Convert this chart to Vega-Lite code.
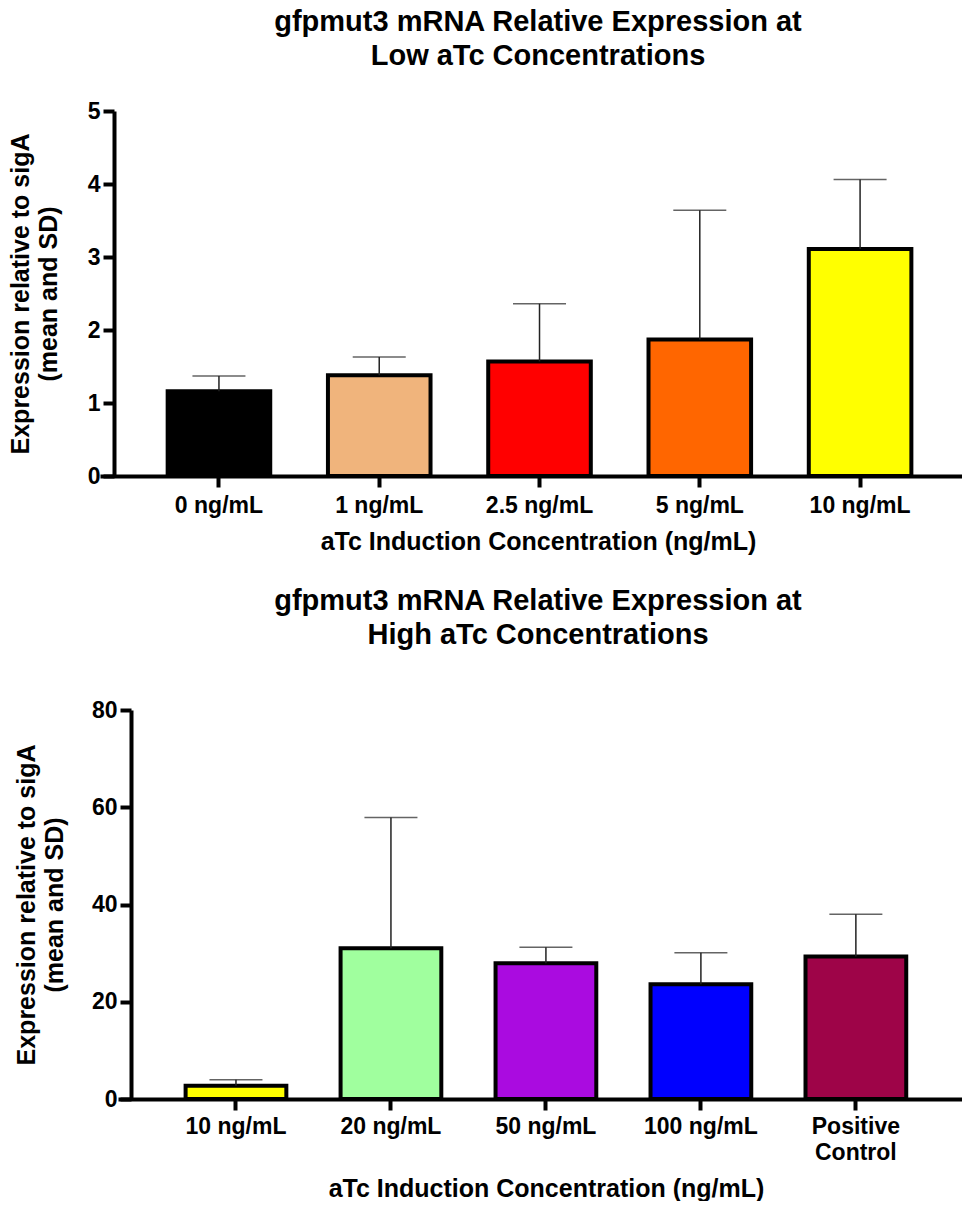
{
  "$schema": "https://vega.github.io/schema/vega-lite/v6.json",
  "background": "white",
  "padding": {"left": 8, "top": 8, "right": 0, "bottom": 0},
  "config": {
    "font": "Liberation Sans",
    "view": {"stroke": null},
    "axis": {
      "labelFont": "Liberation Sans", "labelFontWeight": "bold", "labelColor": "black", "labelFontSize": 23,
      "titleFont": "Liberation Sans", "titleFontWeight": "bold", "titleColor": "black", "titleFontSize": 25,
      "domainColor": "black", "domainWidth": 4, "tickColor": "black", "tickWidth": 4, "tickSize": 11, "grid": false
    },
    "title": {"font": "Liberation Sans", "fontWeight": "bold", "fontSize": 29, "color": "black", "anchor": "middle", "frame": "group", "lineHeight": 34}
  },
  "columns": 1,
  "spacing": 33,
  "resolve": {"scale": {"fill": "independent", "x": "independent", "y": "independent"}},
  "concat": [
    {
      "width": 862,
      "height": 365,
      "title": {"text": ["gfpmut3 mRNA Relative Expression at", "Low aTc Concentrations"], "offset": 29, "dx": 7},
      "data": {"values": [
        {"group": "0 ng/mL", "mean": 1.16, "upper": 1.37},
        {"group": "1 ng/mL", "mean": 1.38, "upper": 1.63},
        {"group": "2.5 ng/mL", "mean": 1.57, "upper": 2.36},
        {"group": "5 ng/mL", "mean": 1.87, "upper": 3.64},
        {"group": "10 ng/mL", "mean": 3.11, "upper": 4.06}
      ]},
      "encoding": {
        "x": {"field": "group", "type": "nominal", "sort": null,
          "scale": {"paddingInner": 0.36, "paddingOuter": 0.369, "align": 0.572},
          "axis": {"title": "aTc Induction Concentration (ng/mL)", "labelAngle": 0, "labelPadding": 7, "titlePadding": 12, "titleX": 438}}
      },
      "layer": [
        {"mark": {"type": "bar", "stroke": "black", "strokeWidth": 4},
         "encoding": {
           "y": {"field": "mean", "type": "quantitative", "scale": {"domain": [0, 5], "nice": false},
             "axis": {"title": ["Expression relative to sigA", "(mean and SD)"], "values": [0, 1, 2, 3, 4, 5], "format": "d", "offset": -14, "titlePadding": 26, "labelPadding": 3, "titleLineHeight": 28}},
           "fill": {"field": "group", "type": "nominal", "legend": null,
             "scale": {"domain": ["0 ng/mL", "1 ng/mL", "2.5 ng/mL", "5 ng/mL", "10 ng/mL"], "range": ["#000000", "#F0B47C", "#FF0000", "#FF6600", "#FFFF00"]}}
         }},
        {"mark": {"type": "rule", "color": "#222222", "strokeWidth": 1.5},
         "encoding": {"y": {"field": "mean", "type": "quantitative"}, "y2": {"field": "upper"}}},
        {"mark": {"type": "tick", "color": "#222222", "thickness": 1.5, "size": 53},
         "encoding": {"y": {"field": "upper", "type": "quantitative"}}}
      ]
    },
    {
      "width": 862,
      "height": 389,
      "title": {"text": ["gfpmut3 mRNA Relative Expression at", "High aTc Concentrations"], "offset": 49, "dx": 7},
      "data": {"values": [
        {"group": "10 ng/mL", "mean": 2.73, "upper": 3.97},
        {"group": "20 ng/mL", "mean": 31.0, "upper": 57.9},
        {"group": "50 ng/mL", "mean": 27.9, "upper": 31.2},
        {"group": "100 ng/mL", "mean": 23.6, "upper": 30.1},
        {"group": "Positive Control", "mean": 29.3, "upper": 38.0}
      ]},
      "encoding": {
        "x": {"field": "group", "type": "nominal", "sort": null,
          "scale": {"paddingInner": 0.35, "paddingOuter": 0.398, "align": 0.548, "range": [18, 862]},
          "axis": {"title": "aTc Induction Concentration (ng/mL)", "labelAngle": 0, "labelPadding": 5, "titlePadding": 12, "labelLineHeight": 26, "titleX": 446,
            "labelExpr": "datum.value === 'Positive Control' ? ['Positive', 'Control'] : datum.label"}}
      },
      "layer": [
        {"mark": {"type": "bar", "stroke": "black", "strokeWidth": 4},
         "encoding": {
           "y": {"field": "mean", "type": "quantitative", "scale": {"domain": [0, 80], "nice": false},
             "axis": {"title": ["Expression relative to sigA", "(mean and SD)"], "values": [0, 20, 40, 60, 80], "format": "d", "offset": -31, "titlePadding": 24, "labelPadding": 3, "titleLineHeight": 28}},
           "fill": {"field": "group", "type": "nominal", "legend": null,
             "scale": {"domain": ["10 ng/mL", "20 ng/mL", "50 ng/mL", "100 ng/mL", "Positive Control"], "range": ["#FFFF00", "#A0FF9E", "#AA0BE0", "#0000FF", "#9E0448"]}}
         }},
        {"mark": {"type": "rule", "color": "#222222", "strokeWidth": 1.5},
         "encoding": {"y": {"field": "mean", "type": "quantitative"}, "y2": {"field": "upper"}}},
        {"mark": {"type": "tick", "color": "#222222", "thickness": 1.5, "size": 53},
         "encoding": {"y": {"field": "upper", "type": "quantitative"}}}
      ]
    }
  ]
}
